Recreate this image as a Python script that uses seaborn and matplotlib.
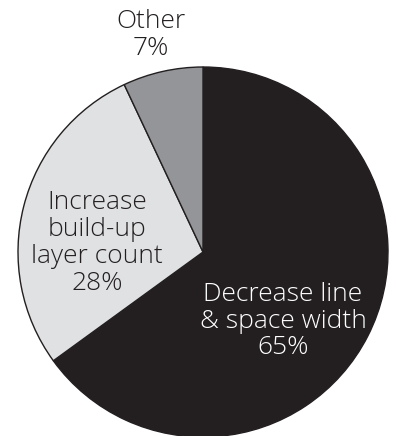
import matplotlib
matplotlib.use("Agg")
import matplotlib.pyplot as plt
import seaborn as sns

categories = ["Decrease line\n& space width", "Increase\nbuild-up\nlayer count", "Other"]
values = [65, 28, 7]
pct_labels = ["65%", "28%", "7%"]
colors = ["#231f20", "#e0e1e3", "#939598"]
text_colors = ["white", "#231f20", "#231f20"]

sns.set_style("white")
plt.rcParams["font.family"] = ["Open Sans", "Lato", "DejaVu Sans"]

fig = plt.figure(figsize=(3.96, 4.36), dpi=100)
ax = fig.add_axes([0, 0, 1, 1])

cx, cy, r = 203, 252, 185
wedges, _ = ax.pie(values, colors=colors, startangle=-90, counterclock=True,
                   center=(cx, cy), radius=r, frame=True,
                   wedgeprops=dict(edgecolor="#231f20", linewidth=1.0))
ax.set_xlim(0, 396)
ax.set_ylim(436, 0)
ax.set_aspect("equal")
ax.axis("off")

label_pos = [(283, 321), (97, 243), (151, 35)]
for cat, pct, tc, (x, y) in zip(categories, pct_labels, text_colors, label_pos):
    ax.text(x, y, cat + "\n" + pct, ha="center", va="center", color=tc,
            fontsize=19, fontweight="light", linespacing=1.1)

fig.savefig("out.png", dpi=100)
